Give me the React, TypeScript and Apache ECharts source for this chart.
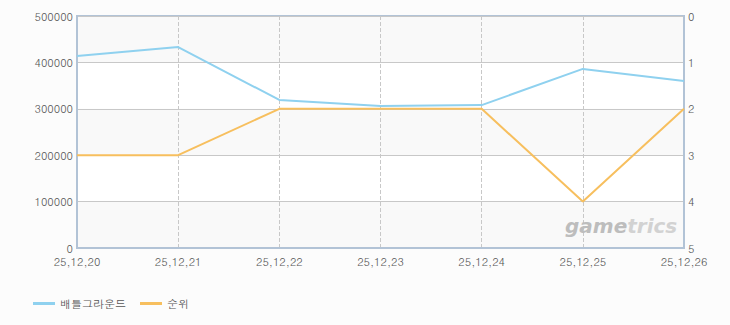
import React, { useEffect, useRef } from "react";
import * as echarts from "echarts";

const categories = ["25,12,20", "25,12,21", "25,12,22", "25,12,23", "25,12,24", "25,12,25", "25,12,26"];
const playersName = "배틀그라운드";
const playersValues = [414000, 433000, 319000, 306000, 308000, 386000, 360000];
const rankName = "순위";
const rankValues = [3, 3, 2, 2, 2, 4, 2];

export default function App() {
  const ref = useRef<HTMLDivElement>(null);
  useEffect(() => {
    document.body.style.margin = "0";
    const chart = echarts.init(ref.current!, null, { renderer: "svg" });
    const font = "Dotum, 'Noto Sans CJK KR', 'DejaVu Sans', sans-serif";
    chart.setOption({
      animation: false,
      backgroundColor: "#fcfcfc",
      grid: { left: 77, right: 46, top: 16, bottom: 77, show: true, borderColor: "#b2c3d6", borderWidth: 2, backgroundColor: "transparent" },
      legend: {
        left: 28,
        top: 293,
        itemWidth: 22,
        itemHeight: 3,
        itemGap: 14,
        icon: "rect",
        textStyle: { color: "#555", fontSize: 11, fontFamily: font },
        data: [playersName, rankName],
      },
      xAxis: {
        type: "category",
        data: categories,
        boundaryGap: false,
        axisLine: { lineStyle: { color: "#b2c3d6", width: 2 } },
        axisTick: { show: false },
        axisLabel: { color: "#555", fontSize: 11, fontFamily: font, margin: 8, interval: 0 },
        splitLine: { show: true, lineStyle: { color: "#c8c8c8", type: "dashed" } },
      },
      yAxis: [
        {
          type: "value",
          min: 0,
          max: 500000,
          interval: 100000,
          axisLine: { show: true, lineStyle: { color: "#b2c3d6", width: 2 } },
          axisTick: { show: false },
          axisLabel: { color: "#555", fontSize: 11, fontFamily: font, margin: 4, formatter: (v: number) => String(v) },
          splitLine: { show: true, lineStyle: { color: "#c8c8c8" } },
          splitArea: { show: true, areaStyle: { color: ["#f9f9f9", "#ffffff"] } },
        },
        {
          type: "value",
          min: 0,
          max: 5,
          interval: 1,
          inverse: true,
          position: "right",
          axisLine: { show: true, lineStyle: { color: "#b2c3d6", width: 2 } },
          axisTick: { show: false },
          axisLabel: { color: "#555", fontSize: 11, fontFamily: font, margin: 4 },
          splitLine: { show: false },
        },
      ],
      graphic: [
        {
          type: "text",
          x: 565,
          y: 216,
          z: 100,
          silent: true,
          style: {
            text: "{a|game}{b|trics}",
            rich: {
              a: { fill: "#bdbdbd", fontSize: 20, fontStyle: "italic", fontWeight: "bold", fontFamily: "'DejaVu Sans', sans-serif" },
              b: { fill: "#d2d2d2", fontSize: 20, fontStyle: "italic", fontWeight: "bold", fontFamily: "'DejaVu Sans', sans-serif" },
            },
          },
        },
      ],
      series: [
        {
          name: playersName,
          type: "line",
          data: playersValues,
          yAxisIndex: 0,
          showSymbol: false,
          symbol: "none",
          lineStyle: { color: "#8fd1ef", width: 2 },
          itemStyle: { color: "#8fd1ef" },
        },
        {
          name: rankName,
          type: "line",
          data: rankValues,
          yAxisIndex: 1,
          showSymbol: false,
          symbol: "none",
          lineStyle: { color: "#f7bf5e", width: 2 },
          itemStyle: { color: "#f7bf5e" },
        },
      ],
    });
    return () => chart.dispose();
  }, []);
  return <div ref={ref} style={{ width: 730, height: 325 }} />;
}
